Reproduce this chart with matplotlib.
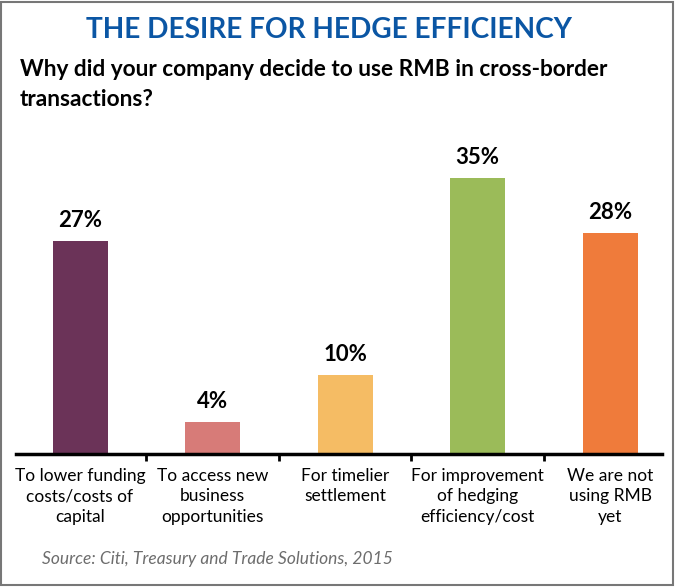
import matplotlib.pyplot as plt
from matplotlib.patches import Rectangle

categories = ['To lower funding\ncosts/costs of\ncapital',
              'To access new\nbusiness\nopportunities',
              'For timelier\nsettlement',
              'For improvement\nof hedging\nefficiency/cost',
              'We are not\nusing RMB\nyet']
values = [27, 4, 10, 35, 28]
colors = ['#6b3358', '#d77b78', '#f5bc64', '#9bbb59', '#ef7b3b']

font = ['Lato', 'DejaVu Sans']
W, H = 675, 587

fig = plt.figure(figsize=(W / 100, H / 100), dpi=100)
fig.patches.append(Rectangle((0.002, 0.003), 0.995, 0.994, transform=fig.transFigure,
                             fill=False, edgecolor='#777777', linewidth=1.5))

# baseline at y=454px, 35% bar top at y=178px, axes top at y=140px
base, top35, atop = 454, 178, 140
ax = fig.add_axes([16 / W, (H - base) / H, 646 / W, (base - atop) / H])
x = range(len(values))
ax.bar(x, values, width=0.415, color=colors)
for i, v in enumerate(values):
    ax.text(i, v + 1.3, f'{v}%', ha='center', va='bottom', fontsize=16,
            fontweight='bold', family=font)

ax.set_xlim(-0.483, 4.39)
ax.set_ylim(0, 35 * (base - atop) / (base - top35))
for s in ['top', 'right', 'left']:
    ax.spines[s].set_visible(False)
ax.spines['bottom'].set_linewidth(2.5)
ax.set_yticks([])
ax.set_xticks(list(x))
ax.set_xticklabels(categories, fontsize=12.5, family=font, linespacing=1.35)
ax.tick_params(axis='x', which='major', length=0, pad=10)
ax.set_xticks([0.5, 1.5, 2.5, 3.5], minor=True)
ax.tick_params(axis='x', which='minor', length=5, width=2, direction='out')

fig.text(329 / W, 1 - 30 / H, 'THE DESIRE FOR HEDGE EFFICIENCY', ha='center', va='center',
         fontsize=20.2, fontweight='bold', color='#0b56a4', family=font)
fig.text(20 / W, 1 - 59 / H, 'Why did your company decide to use RMB in cross-border\ntransactions?',
         ha='left', va='top', fontsize=16.3, fontweight='bold', family=font, linespacing=1.55)
fig.text(42 / W, 1 - 559 / H, 'Source: Citi, Treasury and Trade Solutions, 2015',
         ha='left', va='center', fontsize=12.5, style='italic', color='#6d6d6d', family=font)

fig.savefig('out.png', dpi=100)
